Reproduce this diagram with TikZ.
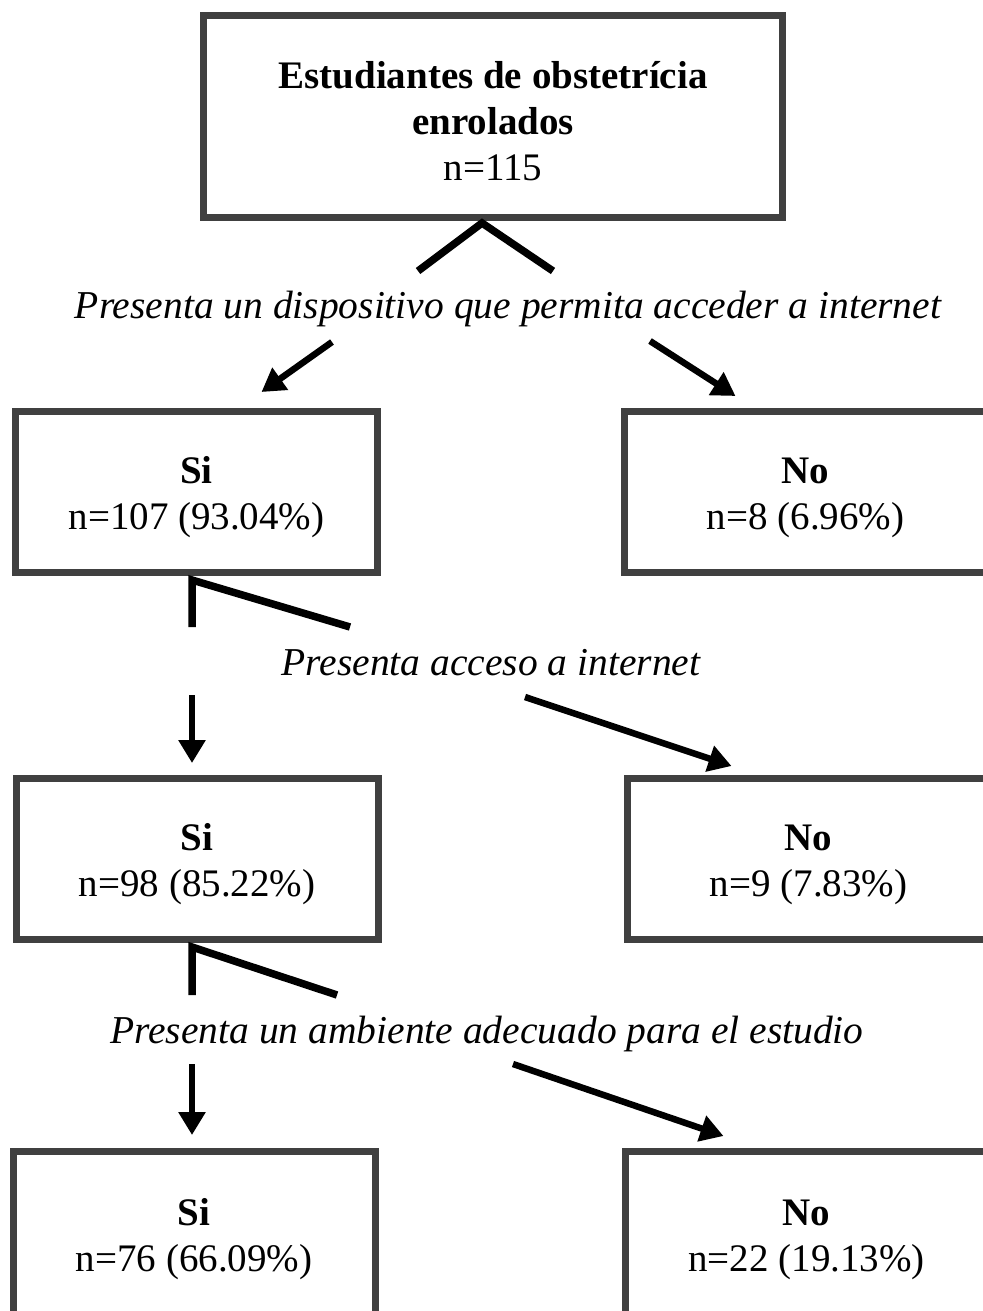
\documentclass[tikz,border=0pt]{standalone}
\usepackage{fontspec}
\setmainfont{Liberation Serif}
\usepackage{xcolor}
\usetikzlibrary{arrows.meta,calc,positioning}
\definecolor{borde}{HTML}{404040}
\newcommand{\alto}{\rule{0pt}{37pt}}

\begin{document}
\begin{tikzpicture}[x=1pt, y=-1pt,
    caja/.style={rectangle, draw=borde, line width=7pt, align=center, inner sep=0pt,
      minimum width=362pt, minimum height=161pt, font=\fontsize{39}{46}\selectfont},
    pregunta/.style={anchor=base, inner sep=0pt, font=\fontsize{39.5}{46}\selectfont\itshape},
    rama/.style={line width=7.5pt, miter limit=20},
    flecha/.style={line width=6.5pt, -{Triangle[length=23pt, width=26pt]}}]
    \useasboundingbox (0,0) rectangle (982,1311);

    \node[caja, minimum width=579pt, minimum height=202pt] (total) at (493,116.5)
      {\alto\textbf{Estudiantes de obstetrícia}\\\textbf{enrolados}\\n=115};
    \node[caja] (si1) at (196.5,492) {\alto\textbf{Si}\\n=107 (93.04\%)};
    \node[caja] (no1) at (805.5,492) {\alto\textbf{No}\\n=8 (6.96\%)};
    \node[caja] (si2) at (197,859) {\alto\textbf{Si}\\n=98 (85.22\%)};
    \node[caja] (no2) at (808.5,859) {\alto\textbf{No}\\n=9 (7.83\%)};
    \node[caja, minimum height=165pt] (si3) at (194,1234) {\alto\textbf{Si}\\n=76 (66.09\%)};
    \node[caja, minimum height=165pt] (no3) at (806.5,1234) {\alto\textbf{No}\\n=22 (19.13\%)};

    \node[pregunta] (p1) at (508,318) {Presenta un dispositivo que permita acceder a internet};
    \node[pregunta] (p2) at (491,675) {Presenta acceso a internet};
    \node[pregunta] (p3) at (487,1043) {Presenta un ambiente adecuado para el estudio};

    % ramas que salen de cada caja
    \coordinate (a1) at (482,223);
    \coordinate (a1i) at (418,271);
    \coordinate (a1d) at (553,271);
    \coordinate (a2) at (192,580);
    \coordinate (a2i) at (192,627);
    \coordinate (a2d) at (350,627);
    \coordinate (a3) at (192,947);
    \coordinate (a3i) at (192,995);
    \coordinate (a3d) at (337,995);
    \draw[rama] (a1i) -- (a1) -- (a1d);
    \draw[rama] (a2i) -- (a2) -- (a2d);
    \draw[rama] (a3i) -- (a3) -- (a3d);

    % flechas hacia las cajas
    \coordinate (b1i) at (332,342);
    \coordinate (b1d) at (650,341);
    \coordinate (b2i) at (192,695);
    \coordinate (b2d) at (525,697);
    \coordinate (b3i) at (192,1064);
    \coordinate (b3d) at (513,1064);
    \draw[flecha] (b1i) -- ($(si1.north)+(65,-16)$);
    \draw[flecha] (b1d) -- ($(no1.north)+(-70,-12)$);
    \draw[flecha] (b2i) -- ($(si2.north)+(-5,-12)$);
    \draw[flecha] (b2d) -- ($(no2.north)+(-77,-9)$);
    \draw[flecha] (b3i) -- ($(si3.north)+(-2,-13)$);
    \draw[flecha] (b3d) -- ($(no3.north)+(-83,-12)$);
\end{tikzpicture}
\end{document}
